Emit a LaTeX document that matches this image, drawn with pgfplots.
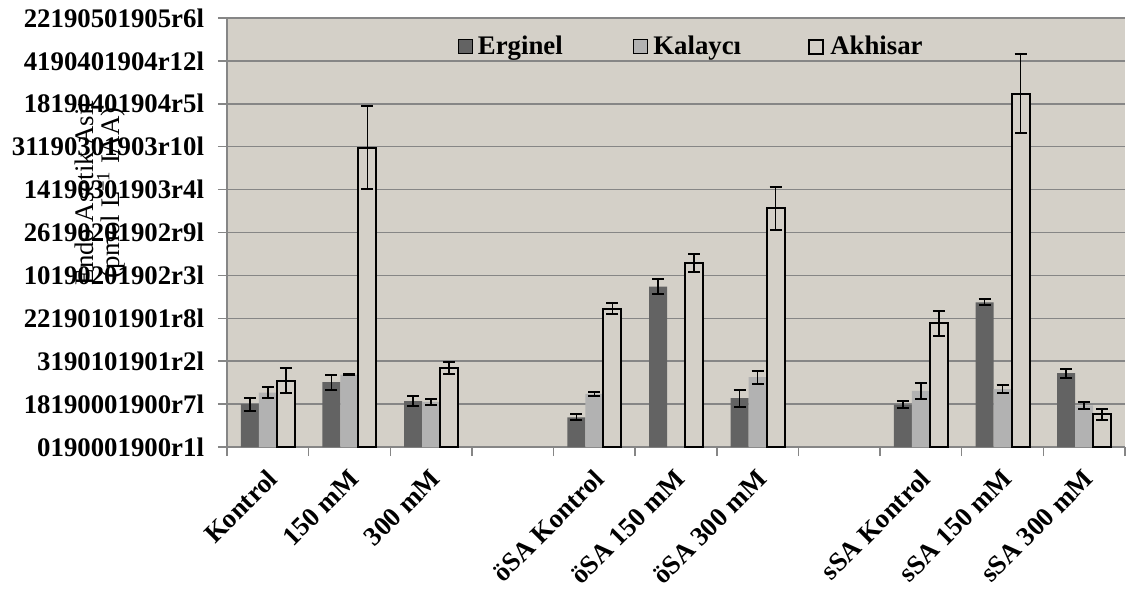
\documentclass[border=0pt]{standalone}
\usepackage{pgfplots}
\pgfplotsset{compat=1.18}
\usepackage{pgfplotstable}
\usepackage{fontspec}
\setmainfont{Liberation Serif}
\definecolor{bgc}{HTML}{D4D0C8}
\definecolor{erg}{HTML}{636363}
\definecolor{kal}{HTML}{B2B2B2}
\definecolor{gridc}{HTML}{868686}
\newcommand\F{\fontsize{13.4bp}{16bp}\selectfont}
\pgfplotsset{sqleg/.style={legend image code/.code={\draw[##1] (0bp,-3.5bp) rectangle (7bp,3.5bp); \path (10bp,0bp);}}}
\pgfplotstableread{
x y e
0 1.00 0.15
1 1.51 0.17
2 1.07 0.11
4 0.69 0.07
5 3.74 0.17
6 1.14 0.20
8 0.99 0.09
9 3.37 0.07
10 1.72 0.10
}\erginel
\pgfplotstableread{
x y e
0 1.27 0.13
1 1.69 0.02
2 1.05 0.08
4 1.24 0.04
6 1.63 0.15
8 1.31 0.18
9 1.35 0.10
10 0.97 0.09
}\kalayci
\pgfplotstableread{
x y e
0 1.55 0.30
1 6.98 0.97
2 1.85 0.14
4 3.22 0.13
5 4.30 0.21
6 5.56 0.50
8 2.88 0.30
9 8.23 0.92
10 0.76 0.13
}\akhisar
\begin{document}
\begin{tikzpicture}
\begin{axis}[
  scale only axis, width=449bp, height=214.5bp,
  xmin=-0.5, xmax=10.5, ymin=0, ymax=10,
  axis x line*=bottom, axis y line*=left,
  axis line style={gridc, line width=0.75bp},
  axis background/.style={fill=bgc},
  ymajorgrids, grid style={gridc, line width=0.75bp},
  ytick={0,1,2,3,4,5,6,7,8,9,10},
  yticklabels={0190001900r1l,18190001900r7l,3190101901r2l,22190101901r8l,10190201902r3l,26190201902r9l,14190301903r4l,31190301903r10l,18190401904r5l,4190401904r12l,22190501905r6l},
  yticklabel style={font=\F\bfseries, xshift=-3.5bp},
  tick align=outside, major tick length=4.5bp,
  tick style={gridc, line width=0.75bp},
  xtick={-0.5,0.5,1.5,2.5,3.5,4.5,5.5,6.5,7.5,8.5,9.5,10.5},
  xticklabels={,,,,,,,,,,,},
  extra x ticks={0,1,2,4,5,6,8,9,10},
  extra x tick labels={Kontrol,150 mM,300 mM,öSA Kontrol,öSA 150 mM,öSA 300 mM,sSA Kontrol,sSA 150 mM,sSA 300 mM},
  extra x tick style={tick style={draw=none}, xticklabel style={font=\F\bfseries, xshift=-1bp, yshift=-1bp, rotate=45, anchor=north east}},
  ylabel={Endo Asetik Asit\\(pmol L\textsuperscript{−1} IAA)},
  ylabel style={at={(axis description cs:-0.141,0.592)}, anchor=center, align=center, font=\fontsize{13.4bp}{13bp}\selectfont},
  ybar=0pt, bar width=9bp,
  legend style={at={(0.2567,0.933)}, anchor=west, draw=none, fill=none, inner sep=0pt, outer sep=0pt,
    font=\F\bfseries, legend columns=3, column sep=0pt, nodes={inner sep=0pt}},
  error bars/error bar style={black, line width=0.75bp},
  error bars/error mark options={black, rotate=90, mark size=3bp, line width=1bp},
]
\addplot[fill=erg, draw=none, sqleg,
  error bars/.cd, y dir=both, y explicit] table[x=x, y=y, y error=e] {\erginel};
\addlegendentry{\makebox[77.5bp][l]{Erginel}}
\addplot[fill=kal, draw=none, sqleg,
  error bars/.cd, y dir=both, y explicit] table[x=x, y=y, y error=e] {\kalayci};
\addlegendentry{\makebox[77.5bp][l]{Kalaycı}}
\addplot[fill=bgc, draw=black, line width=1bp, sqleg,
  error bars/.cd, y dir=both, y explicit] table[x=x, y=y, y error=e] {\akhisar};
\addlegendentry{Akhisar}
\coordinate (O) at (rel axis cs:0,0);
\end{axis}
\pgfresetboundingbox
\path[use as bounding box] ([shift={(-113.5bp,-71.5bp)}]O) rectangle ([shift={(449.5bp,223.5bp)}]O);
\end{tikzpicture}
\end{document}
